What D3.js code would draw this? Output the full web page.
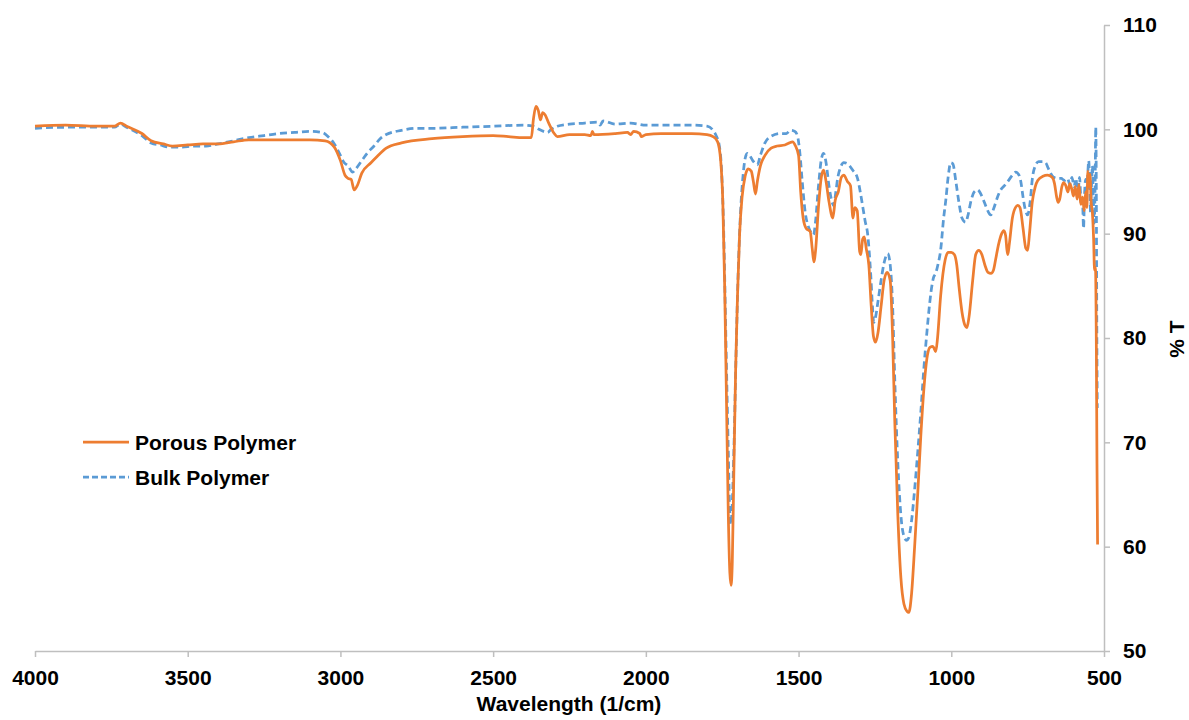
<!DOCTYPE html>
<html>
<head>
<meta charset="utf-8">
<script src="https://cdn.jsdelivr.net/npm/d3@7"></script>
<style>
  html, body { margin: 0; padding: 0; background: #fff; }
  svg { display: block; font-family: "Liberation Sans", Arial, sans-serif; }
</style>
</head>
<body>
<svg id="chart" width="1189" height="720"></svg>
<script>
// ---- data ----
const porousWn = [4000,3900,3800,3740,3720,3700,3650,3620,3580,3550,3500,3450,3400,3350,3300,3200,3100,3050,3020,3000,2985,2975,2965,2955,2945,2930,2900,2880,2850,2800,2700,2600,2500,2450,2400,2375,2368,2360,2352,2345,2338,2330,2318,2300,2290,2250,2200,2180,2175,2170,2100,2060,2050,2040,2020,2015,2000,1950,1900,1850,1800,1780,1765,1755,1748,1742,1736,1730,1725,1721,1717,1712,1706,1700,1693,1685,1675,1665,1655,1648,1641,1635,1625,1610,1590,1570,1545,1530,1520,1510,1500,1493,1485,1475,1462,1455,1450,1444,1435,1425,1418,1410,1400,1388,1380,1370,1360,1352,1340,1330,1322,1316,1308,1300,1296,1290,1285,1278,1270,1262,1255,1248,1240,1230,1220,1210,1200,1192,1185,1175,1165,1155,1145,1139,1130,1120,1110,1100,1090,1080,1070,1060,1051,1045,1035,1020,1010,1000,990,982,975,965,955,949,942,930,920,910,900,890,880,870,862,855,845,835,828,822,818,815,810,800,790,782,775,765,756,750,744,735,725,717,700,685,670,662,655,650,645,638,632,625,618,612,605,600,594,588,582,576,570,565,560,556,553,550,546,542,538,534,531,528,525,523,521];
const porousT = [100.3,100.4,100.3,100.3,100.6,100.3,99.6,98.9,98.6,98.4,98.5,98.6,98.6,98.8,99.0,99.0,99.0,98.9,98.3,97.0,95.6,95.3,95.2,94.2,94.6,95.8,96.8,97.4,98.2,98.7,99.1,99.3,99.4,99.3,99.2,99.2,101.0,102.2,101.8,100.9,101.6,101.4,100.6,99.6,99.3,99.5,99.5,99.4,99.8,99.5,99.6,99.7,99.5,99.8,99.6,99.3,99.5,99.6,99.6,99.6,99.5,99.3,98.8,97.0,93.0,85.0,74.0,63.0,57.5,56.3,58.5,67.0,77.0,84.0,90.0,93.5,95.5,96.2,96.0,95.0,93.8,95.0,96.5,97.5,98.2,98.4,98.5,98.7,98.8,98.4,97.5,94.0,91.5,90.5,90.2,88.5,87.3,88.5,92.5,95.5,96.1,95.0,93.0,91.5,93.2,94.0,95.4,95.6,95.0,94.6,91.5,92.5,92.2,88.3,88.0,89.5,89.7,88.5,87.0,83.0,80.2,79.6,80.5,83.0,85.5,86.3,85.5,80.0,72.0,63.0,57.0,54.5,53.8,53.7,55.5,60.0,65.0,70.5,75.0,78.0,79.1,79.2,78.7,80.0,84.0,87.5,88.2,88.2,88.0,87.0,85.0,82.5,81.2,81.0,82.0,85.5,88.0,88.4,88.0,87.0,86.3,86.2,86.5,87.5,89.0,90.0,90.3,89.8,88.5,88.0,89.0,91.5,92.5,92.7,92.5,90.5,88.6,88.4,90.0,93.0,94.5,95.1,95.5,95.6,95.4,94.8,93.5,93.0,93.3,94.5,94.9,94.6,94.0,94.8,94.2,93.6,94.5,93.3,94.7,92.8,93.5,92.2,94.0,92.5,96.0,94.5,95.7,93.0,92.0,89.5,86.5,86.8,79.0,68.0,60.2];

const bulkWn = [4000,3900,3800,3740,3720,3700,3650,3620,3590,3560,3520,3480,3440,3400,3350,3300,3250,3200,3150,3100,3060,3040,3020,3000,2990,2975,2960,2950,2930,2910,2890,2870,2850,2800,2750,2700,2600,2500,2400,2370,2350,2335,2322,2310,2290,2250,2200,2160,2150,2140,2100,2050,2000,1950,1900,1850,1800,1780,1770,1760,1752,1745,1738,1730,1725,1722,1718,1712,1705,1698,1690,1682,1675,1668,1660,1650,1635,1625,1610,1592,1559,1540,1526,1512,1503,1496,1488,1478,1467,1455,1451,1445,1435,1425,1418,1410,1400,1390,1385,1378,1372,1362,1352,1340,1323,1307,1298,1290,1282,1274,1264,1258,1254,1248,1240,1230,1220,1208,1200,1192,1185,1175,1165,1155,1146,1140,1130,1120,1110,1100,1090,1080,1074,1066,1058,1051,1044,1035,1025,1018,1010,1002,995,985,975,965,953,945,935,925,914,905,897,885,875,871,860,850,838,826,815,800,789,780,773,765,757,750,742,734,725,714,700,691,683,675,665,652,640,630,619,612,605,598,592,586,580,575,570,567,564,560,556,553,550,547,544,541,538,535,532,529,527,525,524,523,522];
const bulkT = [100.1,100.2,100.2,100.2,100.5,100.2,99.4,98.7,98.5,98.3,98.3,98.4,98.4,98.6,98.9,99.2,99.4,99.6,99.7,99.8,99.7,99.3,98.6,97.5,96.9,96.5,95.9,96.2,97.0,97.8,98.4,99.1,99.5,99.9,100.1,100.1,100.2,100.3,100.4,100.3,100.0,99.8,99.7,100.0,100.3,100.5,100.6,100.7,100.4,100.8,100.5,100.6,100.4,100.4,100.4,100.4,100.3,99.9,99.4,98.5,96.0,90.0,80.0,69.0,63.0,62.1,63.5,69.0,78.0,86.0,92.0,95.5,97.2,97.7,97.5,97.0,96.6,97.5,98.7,99.3,99.6,99.6,99.9,99.8,99.3,97.8,95.0,92.0,90.6,90.0,89.9,91.0,94.5,97.2,97.7,96.8,94.5,93.0,92.7,94.0,95.3,96.4,96.8,96.7,96.1,95.3,94.0,92.6,91.2,90.0,86.2,83.0,81.5,82.0,83.5,85.5,87.2,88.1,87.0,83.0,76.0,68.0,63.0,61.0,60.6,60.8,62.5,65.5,69.0,72.8,77.0,80.5,82.4,84.5,85.8,86.2,87.0,88.4,91.5,93.2,95.5,96.8,96.7,95.0,93.0,91.5,91.1,91.8,93.2,94.0,94.2,93.9,93.4,92.5,91.9,91.8,92.5,93.4,94.2,94.6,95.0,95.6,95.9,95.7,95.1,93.5,92.2,91.8,93.0,95.4,96.5,96.9,96.9,96.8,96.3,95.8,95.4,95.3,95.3,95.1,95.3,94.7,95.4,94.5,95.3,93.6,95.4,93.0,92.8,90.5,93.5,95.2,94.2,95.8,97.0,95.0,92.0,94.5,96.5,93.5,91.0,95.0,100.2,93.0,84.5,78.0,73.3];

const xTicks = [4000,3500,3000,2500,2000,1500,1000,500];
const yTicks = [50,60,70,80,90,100,110];
const seriesNames = ["Porous Polymer","Bulk Polymer"];

// ---- chart ----
const svg = d3.select("#chart");
const orange = "#ED7D31", blue = "#5B9BD5", axisColor = "#BFBFBF";

const x = d3.scaleLinear().domain([4000, 500]).range([35, 1104]);
const y = d3.scaleLinear().domain([50, 110]).range([651, 25]);

const gx = svg.append("g").attr("transform", "translate(0,651)")
  .call(d3.axisBottom(x).tickValues(xTicks).tickSize(6).tickSizeOuter(0).tickPadding(13).tickFormat(d3.format("d")));
const gy = svg.append("g").attr("transform", "translate(1104,0)")
  .call(d3.axisRight(y).tickValues(yTicks).tickSize(6).tickSizeOuter(0).tickPadding(13).tickFormat(d3.format("d")));

[gx, gy].forEach(g => {
  g.select(".domain").attr("stroke", axisColor).attr("stroke-width", 1.5);
  g.selectAll(".tick line").attr("stroke", axisColor).attr("stroke-width", 1.5);
  g.selectAll(".tick text").attr("fill", "#000").attr("font-size", 21).attr("font-weight", "bold")
    .attr("font-family", "'Liberation Sans', Arial, sans-serif");
});

svg.append("text").attr("x", 569).attr("y", 711).attr("text-anchor", "middle")
  .attr("font-size", 21).attr("font-weight", "bold").text("Wavelength (1/cm)");
svg.append("text").attr("transform", "translate(1184,339) rotate(-90)").attr("text-anchor", "middle")
  .attr("font-size", 21).attr("font-weight", "bold").text("% T");

const line = d3.line().x(d => x(d[0])).y(d => y(d[1])).curve(d3.curveMonotoneX);
const porous = porousWn.map((w, i) => [w, porousT[i]]).sort((a,b) => b[0]-a[0]);
const bulk = bulkWn.map((w, i) => [w, bulkT[i]]).sort((a,b) => b[0]-a[0]);

svg.append("path").datum(bulk).attr("d", line).attr("fill", "none")
  .attr("stroke", blue).attr("stroke-width", 2.75).attr("stroke-dasharray", "7,4");
svg.append("path").datum(porous).attr("d", line).attr("fill", "none")
  .attr("stroke", orange).attr("stroke-width", 2.75);

const legend = svg.append("g");
const legItems = [
  { name: seriesNames[0], color: orange, dash: null, y: 442 },
  { name: seriesNames[1], color: blue, dash: "6,3", y: 477 }
];
legItems.forEach(it => {
  legend.append("line").attr("x1", 83).attr("x2", 129).attr("y1", it.y).attr("y2", it.y)
    .attr("stroke", it.color).attr("stroke-width", 2.75).attr("stroke-dasharray", it.dash);
  legend.append("text").attr("x", 135).attr("y", it.y + 7.5).attr("font-size", 21)
    .attr("font-weight", "bold").attr("fill", "#000").text(it.name);
});
</script>
</body>
</html>
